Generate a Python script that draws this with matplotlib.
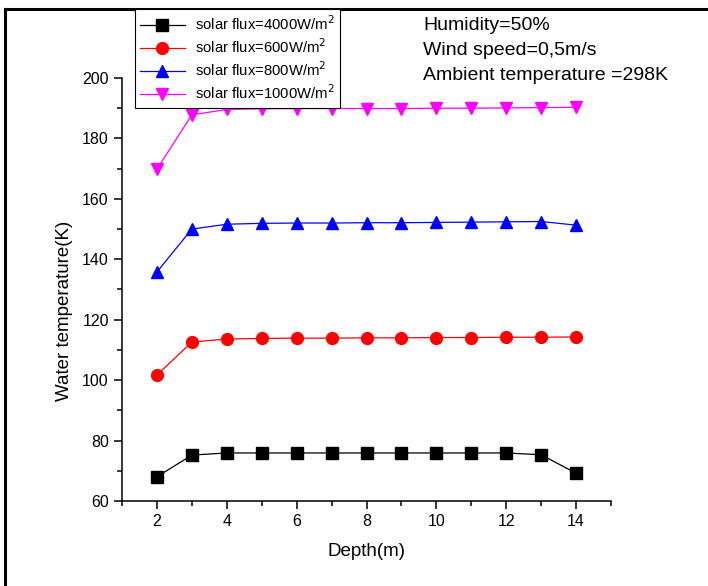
import numpy as np
import matplotlib
matplotlib.use("Agg")
import matplotlib.pyplot as plt
from matplotlib.ticker import MultipleLocator
from matplotlib.lines import Line2D

plt.rcParams['font.family'] = ['Liberation Sans', 'DejaVu Sans']

depth = [2, 3, 4, 5, 6, 7, 8, 9, 10, 11, 12, 13, 14]
t_4000 = [68.0, 75.2, 75.9, 75.9, 75.9, 75.9, 75.9, 75.9, 75.9, 75.9, 75.9, 75.3, 69.2]
t_600 = [101.7, 112.6, 113.6, 113.8, 113.9, 113.9, 114.0, 114.0, 114.1, 114.1, 114.2, 114.2, 114.3]
t_800 = [135.8, 150.0, 151.6, 151.9, 152.0, 152.0, 152.1, 152.1, 152.2, 152.3, 152.4, 152.5, 151.3]
t_1000 = [169.8, 187.8, 189.6, 189.8, 189.9, 189.9, 189.9, 189.9, 190.0, 190.0, 190.1, 190.2, 190.3]

labels = ['solar flux=4000W/m$^2$', 'solar flux=600W/m$^2$',
          'solar flux=800W/m$^2$', 'solar flux=1000W/m$^2$']
notes = ['Humidity=50%', 'Wind speed=0,5m/s', 'Ambient temperature =298K']

fig = plt.figure(figsize=(7.08, 5.86), dpi=100)
ax = fig.add_axes([122/708, 1-501/586, (611-122)/708, (501-78)/586])

ax.plot(depth, t_4000, color='black', marker='s', ms=8, lw=0.9, label=labels[0])
ax.plot(depth, t_600, color='red', marker='o', ms=8.5, lw=0.9, label=labels[1])
ax.plot(depth, t_800, color='blue', marker='^', ms=9, lw=0.9, label=labels[2])
ax.plot(depth, t_1000, color='magenta', marker='v', ms=9, lw=0.9, label=labels[3])

ax.set_xlim(1, 15)
ax.set_ylim(60, 200)
ax.xaxis.set_major_locator(MultipleLocator(2))
ax.xaxis.set_minor_locator(MultipleLocator(1))
ax.yaxis.set_major_locator(MultipleLocator(20))
ax.yaxis.set_minor_locator(MultipleLocator(10))
for s in ['top', 'right']:
    ax.spines[s].set_visible(False)
for s in ['left', 'bottom']:
    ax.spines[s].set_linewidth(1.1)
ax.tick_params(which='major', direction='out', length=6, width=1.1, labelsize=11.5)
ax.tick_params(which='minor', direction='out', length=3.5, width=1.1)

ax.set_xlabel('Depth(m)', fontsize=13.5)
ax.set_ylabel('Water temperature(K)', fontsize=13.5)
ax.xaxis.set_label_coords(0.5, -0.1)
ax.yaxis.set_label_coords(-0.1, 0.45)

leg = fig.legend(loc='upper left', bbox_to_anchor=(135/708, 1-9/586), fontsize=10.7,
                 frameon=True, fancybox=False, edgecolor='black', framealpha=1,
                 handlelength=3.0, borderpad=0.35, labelspacing=0.3, handletextpad=0.7,
                 borderaxespad=0)
leg.get_frame().set_linewidth(0.8)

for i, n in enumerate(notes):
    fig.text(423/708, 1-(26+24.5*i)/586, n, fontsize=14, va='center', ha='left')

# page frame lines
fig.add_artist(Line2D([5/708, 1], [1-9/586, 1-9/586], color='black', lw=2.2, transform=fig.transFigure))
fig.add_artist(Line2D([5/708, 5/708], [0, 1-9/586], color='black', lw=2.2, transform=fig.transFigure))

fig.savefig('out.png', dpi=100)
